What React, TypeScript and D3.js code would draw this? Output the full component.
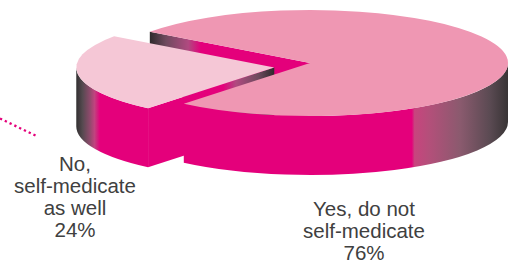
import React from 'react';
import * as d3 from 'd3';

// data
const categories = ['Yes, do not self-medicate', 'No, self-medicate as well'];
const values = [76, 24];
const labelLines = [
  ['Yes, do not', 'self-medicate', '76%'],
  ['No,', 'self-medicate', 'as well', '24%'],
];
const exploded = [false, true];

const W = 510;
const H = 264;
const cx = 310;
const cy = 63;
const rx = 198;
const ry = 53;
const depth = 59;
const explodeDist = 36;

const MAGENTA = '#e4007b';
const topColors = ['#ef97b3', '#f5c7d6'];
const TEXT = '#404040';

const deg = Math.PI / 180;

// label anchors (centre x, first baseline)
const labelPos = [
  { x: 364, y: 216 },
  { x: 75, y: 171 },
];
const lineHeight = 22;

type Slice = { i: number; t0: number; t1: number; ox: number; oy: number };

const pie = d3.pie<number>().sort(null).startAngle(306 * deg).endAngle(666 * deg);

const slices: Slice[] = pie(values).map((a, i) => {
  // d3 angles start at 12 o'clock; shift to 3 o'clock parametric angles
  const t0 = a.startAngle - Math.PI / 2;
  const t1 = a.endAngle - Math.PI / 2;
  const mid = (t0 + t1) / 2;
  return {
    i,
    t0,
    t1,
    ox: exploded[i] ? explodeDist * Math.cos(mid) : 0,
    oy: exploded[i] ? explodeDist * Math.sin(mid) : 0,
  };
});

const pt = (s: Slice, t: number, z = 0): [number, number] => [
  cx + s.ox + rx * Math.cos(t),
  cy + s.oy + ry * Math.sin(t) + z,
];
const apex = (s: Slice, z = 0): [number, number] => [cx + s.ox, cy + s.oy + z];
const f = (p: [number, number]) => `${p[0].toFixed(2)},${p[1].toFixed(2)}`;

const topPath = (s: Slice) => {
  const large = s.t1 - s.t0 > Math.PI ? 1 : 0;
  return `M${f(apex(s))}L${f(pt(s, s.t0))}A${rx},${ry} 0 ${large} 1 ${f(pt(s, s.t1))}Z`;
};

// parts of the outer rim facing the viewer (lower half of the ellipse)
const frontParts = (s: Slice) => {
  const parts: [number, number][] = [];
  for (let k = -1; k <= 2; k++) {
    const lo = Math.max(s.t0, 2 * Math.PI * k);
    const hi = Math.min(s.t1, 2 * Math.PI * k + Math.PI);
    if (hi > lo) parts.push([lo, hi]);
  }
  return parts;
};

const sidePath = (s: Slice, a: number, b: number) =>
  `M${f(pt(s, a))}A${rx},${ry} 0 0 1 ${f(pt(s, b))}L${f(pt(s, b, depth))}A${rx},${ry} 0 0 0 ${f(pt(s, a, depth))}Z`;

const facePath = (s: Slice, t: number) =>
  `M${f(apex(s))}L${f(pt(s, t))}L${f(pt(s, t, depth))}L${f(apex(s, depth))}Z`;

// cut faces turned toward the viewer
const faces = slices.flatMap((s) => {
  const out: { s: Slice; t: number }[] = [];
  if (Math.cos(s.t0) < 0) out.push({ s, t: s.t0 });
  if (Math.cos(s.t1) > 0) out.push({ s, t: s.t1 });
  return out;
});

const sideStops: [number, string][] = [
  [0, '#323031'],
  [0.016, '#564a50'],
  [0.033, '#8a4a6a'],
  [0.046, '#c0447f'],
  [0.06, MAGENTA],
  [0.757, MAGENTA],
  [0.764, '#c8447e'],
  [0.8, '#b44f7a'],
  [0.88, '#8a5a6e'],
  [0.955, '#5a4a52'],
  [1, '#383435'],
];
const faceStops: [number, string][] = [
  [0, '#2e2a2c'],
  [0.1, '#6e4a5e'],
  [0.24, '#b04a80'],
  [0.32, MAGENTA],
  [1, MAGENTA],
];

export default function App() {
  return (
    <svg
      width={W}
      height={H}
      viewBox={`0 0 ${W} ${H}`}
      style={{ position: 'absolute', left: 0, top: 0, background: '#fff' }}
    >
      <defs>
        {slices.map((s) => (
          <linearGradient
            key={`sg${s.i}`}
            id={`side-${s.i}`}
            gradientUnits="userSpaceOnUse"
            x1={cx + s.ox - rx}
            x2={cx + s.ox + rx}
            y1={0}
            y2={0}
          >
            {sideStops.map(([o, c], j) => (
              <stop key={j} offset={o} stopColor={c} />
            ))}
          </linearGradient>
        ))}
        {faces.map(({ s, t }) => {
          const rim = pt(s, t);
          const ap = apex(s);
          // first slice darkens toward its rim, the exploded one toward its centre
          const [xa, xb] = s.i === 0 ? [rim[0], ap[0]] : [ap[0], rim[0]];
          const span = Math.abs(ap[0] - rim[0]);
          return (
            <linearGradient
              key={`fg${s.i}-${t}`}
              id={`face-${s.i}-${Math.round(t * 1000)}`}
              gradientUnits="userSpaceOnUse"
              x1={xa}
              x2={xb}
              y1={0}
              y2={0}
            >
              {faceStops.map(([o, c], j) => (
                <stop key={j} offset={s.i === 0 ? o : Math.min(1, (o * 160) / span)} stopColor={c} />
              ))}
            </linearGradient>
          );
        })}
      </defs>

      {/* leader dots */}
      <line x1={0} y1={118.5} x2={36} y2={135.8} stroke={MAGENTA} strokeWidth={2.3} strokeDasharray="2.3,3" />

      {/* cut faces sit behind everything else */}
      {faces.map(({ s, t }) => (
        <path
          key={`f${s.i}-${t}`}
          d={facePath(s, t)}
          fill={`url(#face-${s.i}-${Math.round(t * 1000)})`}
        />
      ))}

      {slices.map((s) => (
        <g key={categories[s.i]}>
          {frontParts(s).map(([a, b], j) => (
            <path key={j} d={sidePath(s, a, b)} fill={`url(#side-${s.i})`} />
          ))}
          <path d={topPath(s)} fill={topColors[s.i]} />
        </g>
      ))}

      {labelLines.map((lines, i) => (
        <text
          key={`l${i}`}
          x={labelPos[i].x}
          y={labelPos[i].y}
          textAnchor="middle"
          fontFamily="'Liberation Sans', Arial, sans-serif"
          fontSize={20.5}
          fill={TEXT}
        >
          {lines.map((ln, j) => (
            <tspan key={j} x={labelPos[i].x} dy={j === 0 ? 0 : lineHeight}>
              {ln}
            </tspan>
          ))}
        </text>
      ))}
    </svg>
  );
}
